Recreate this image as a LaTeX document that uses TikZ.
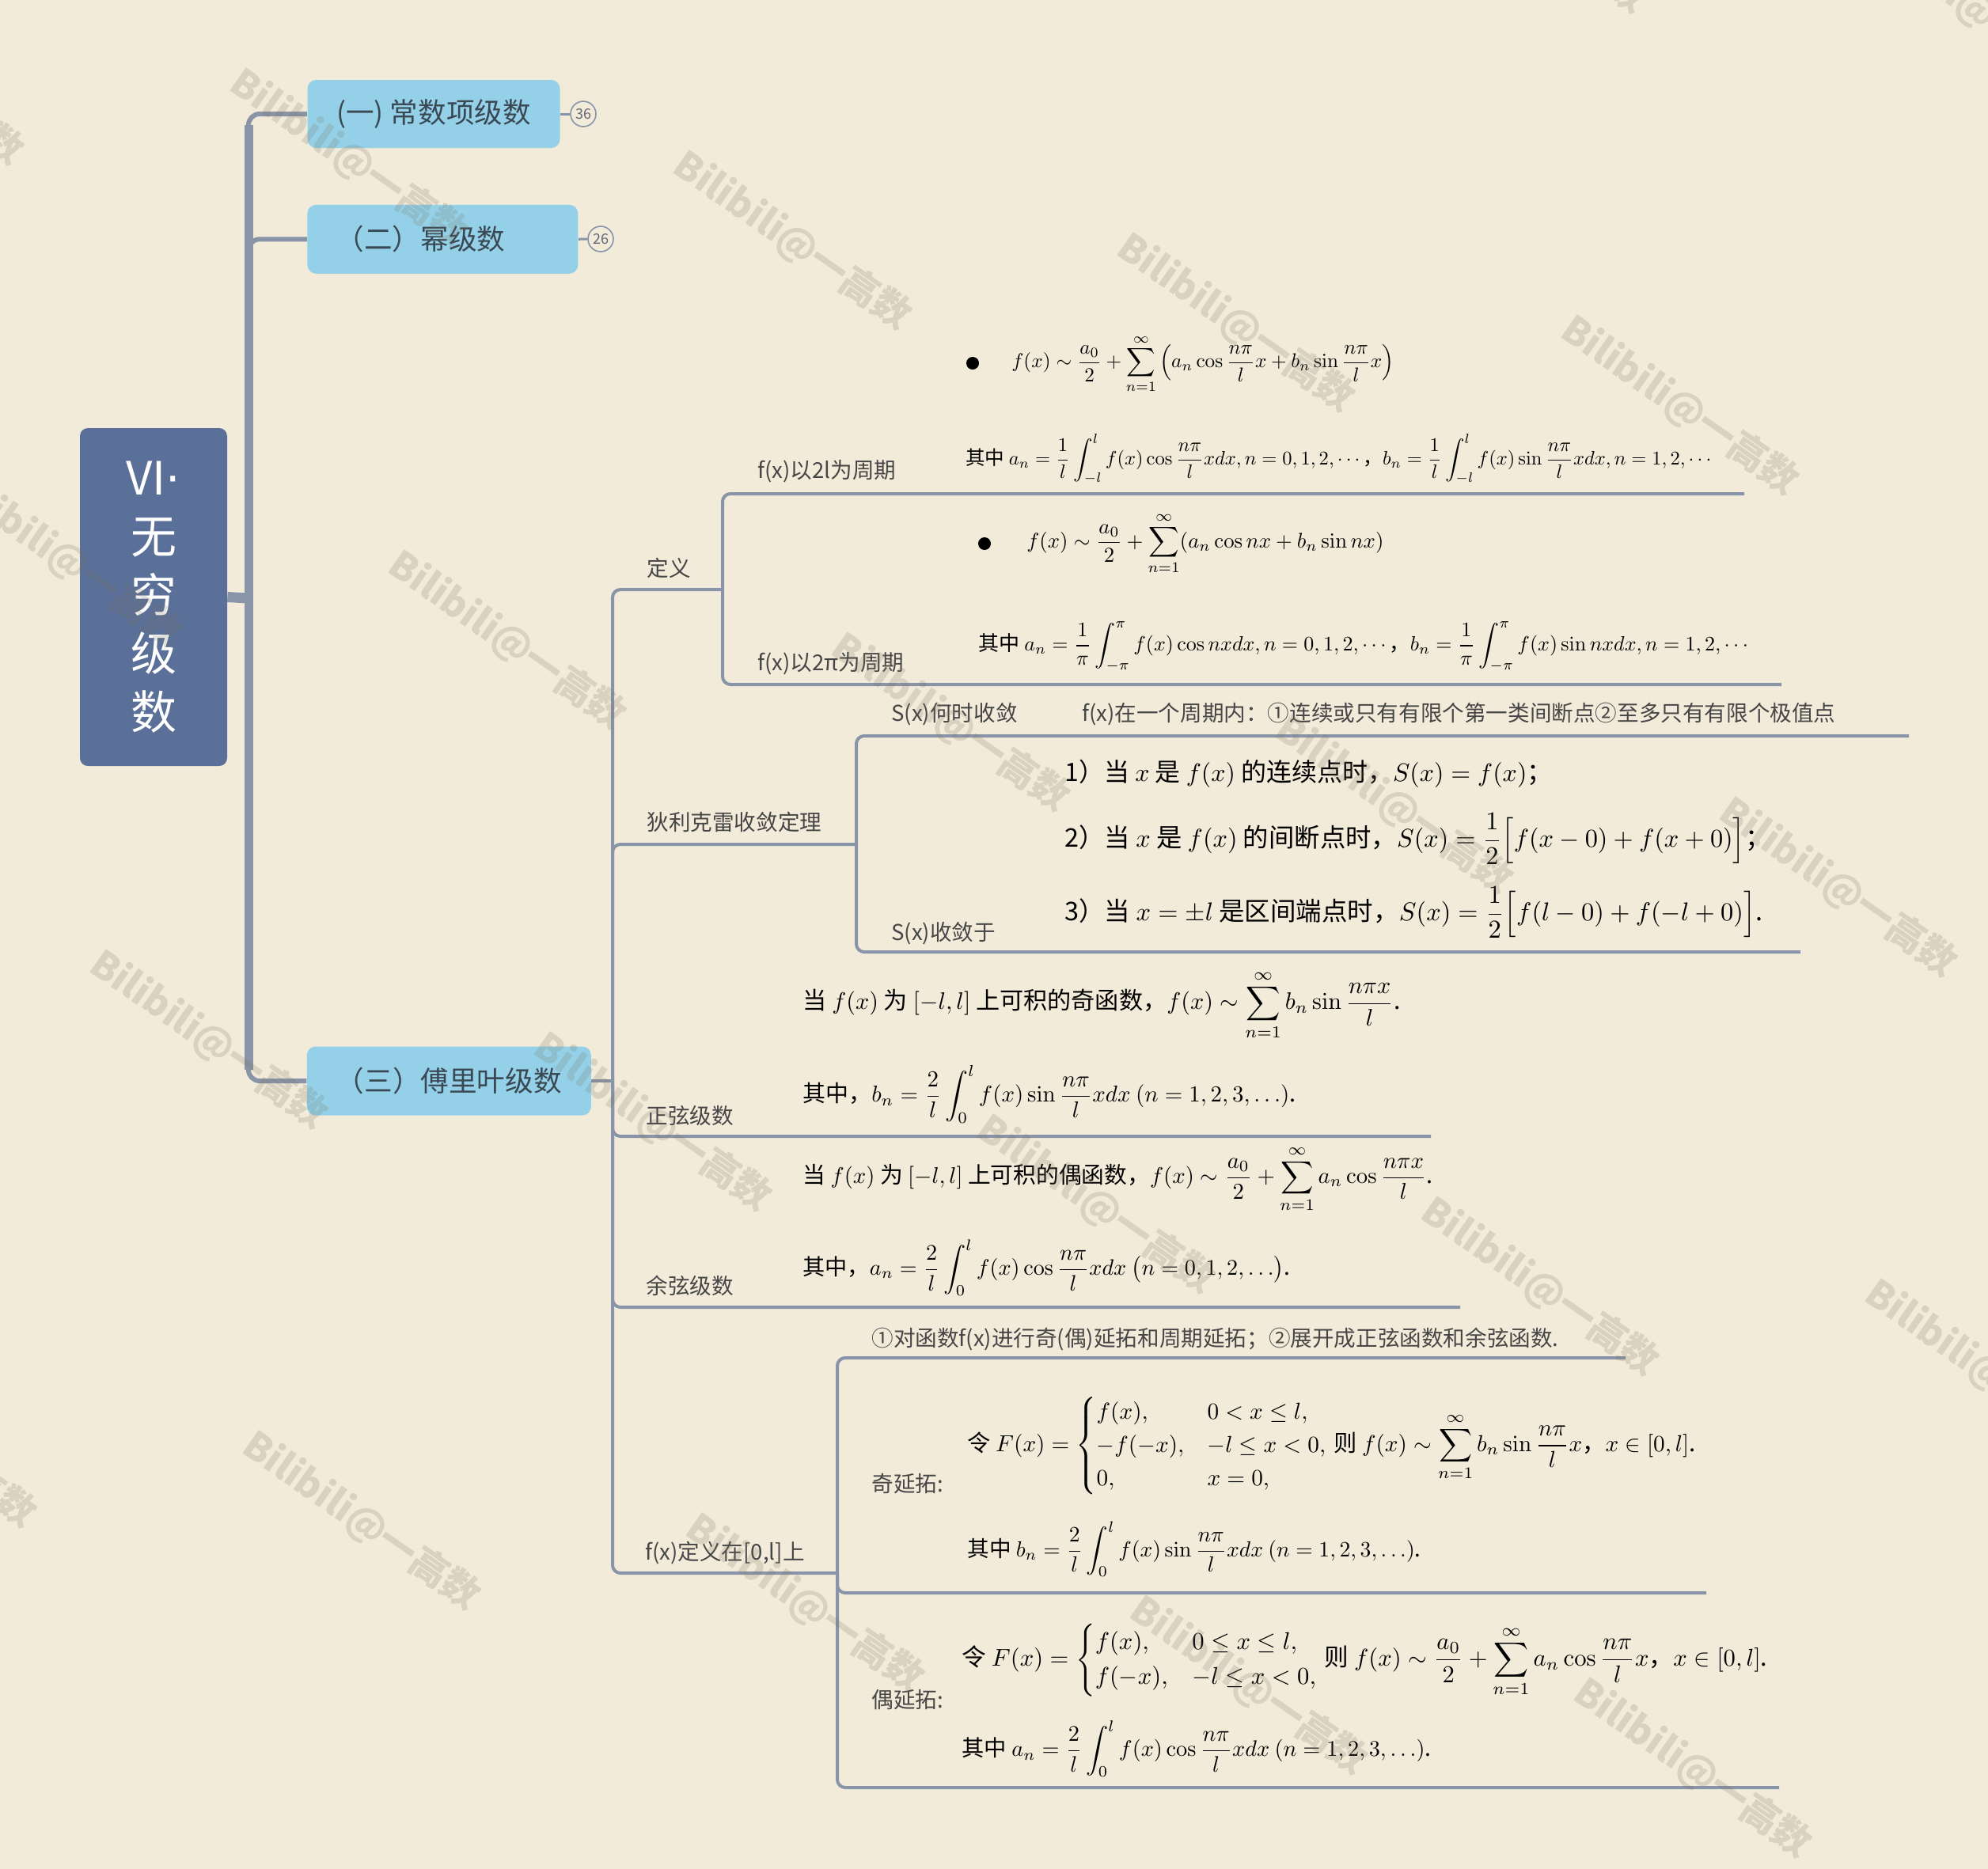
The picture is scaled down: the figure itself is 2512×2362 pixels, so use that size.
\documentclass[tikz,border=0pt]{standalone}
\usepackage{amsmath}
\usepackage{graphicx}
\usepackage[no-math]{fontspec}
\setmainfont{Noto Sans CJK SC}
\newfontfamily\dotfont{DejaVu Sans}
\definecolor{bg}{RGB}{242,235,218}
\definecolor{lineC}{RGB}{138,148,168}
\definecolor{rootC}{RGB}{91,112,152}
\definecolor{nodeC}{RGB}{148,209,232}
\definecolor{nodeT}{RGB}{58,72,84}
\definecolor{labT}{RGB}{70,70,70}
\definecolor{wmC}{RGB}{120,110,90}
\newcommand{\fmbox}[2]{\resizebox{#1pt}{!}{#2}}
\begin{document}
\begin{tikzpicture}[x=0.5pt,y=-0.5pt,
  lab/.style={anchor=west, inner sep=0pt, text=labT, font=\fontsize{13.8}{16}\selectfont},
  fm/.style={anchor=west, inner sep=0pt, text=black},
  l1/.style={draw=lineC, line width=3pt, rounded corners=7pt},
  l2/.style={draw=lineC, line width=2pt, rounded corners=5pt},
  topic/.style={fill=nodeC, rounded corners=5.5pt, text=nodeT, font=\fontsize{17.8}{20}\selectfont, inner sep=0pt},
  badge/.style={circle, draw=lineC, line width=0.8pt, fill=bg, text=lineC!70!black, minimum size=16pt, inner sep=0pt, font=\fontsize{9}{10}\selectfont},
  bul/.style={circle, fill=black, minimum size=8pt, inner sep=0pt},
  wm/.style={text=wmC, text opacity=0.2, font=\bfseries\fontsize{24}{26}\selectfont, rotate=-35}
]
\useasboundingbox (0,0) rectangle (2512,2362);
\fill[bg] (0,0) rectangle (2512,2362);

% ---------- main nodes ----------
\node[fill=rootC, rounded corners=5pt, minimum width=93pt, minimum height=213.5pt, inner sep=0pt,
      text=white, align=center, font=\fontsize{29}{37}\selectfont] (root) at (194,754.5) {VI{\dotfont ·}\\无\\穷\\级\\数};
\node[topic, minimum width=159.5pt, minimum height=43pt] (n1) at (548,144) {(一) 常数项级数};
\node[topic, minimum width=171pt, minimum height=43.5pt] (n2) at (559.4,302.3) {（二）幂级数\hspace*{28pt}};
\node[topic, minimum width=179.5pt, minimum height=43.5pt] (n3) at (567.3,1366) {（三）傅里叶级数};
\node[badge] (b1) at (737,144) {36};
\node[badge] (b2) at (759,302) {26};

% ---------- level 1 connectors ----------
\coordinate (rj) at (314,756);
\coordinate (tt) at (314,158);
\coordinate (tb) at (314,1352);
\draw[lineC, line width=6.5pt] (root.east) -- (rj);
\draw[l1] (rj) |- (n1.west);
\draw[l1] (rj) |- (n2.west);
\draw[l1] (rj) |- (n3.west);
\draw[lineC, line width=5.5pt] (tt) -- (tb);
\draw[lineC, line width=1.5pt] (n1.east) -- (b1.west);
\draw[lineC, line width=1.5pt] (n2.east) -- (b2.west);

% ---------- level 2 connectors ----------
\coordinate (s2) at (774,1366);
\draw[l2] (n3.east) -- (s2);
\coordinate (dyj) at (913,745);
\coordinate (e2l) at (2204,624);
\coordinate (e2p) at (2251,865);
\draw[l2] (s2) |- (dyj);
\draw[l2] (dyj) |- (e2l);
\draw[l2] (dyj) |- (e2p);
\coordinate (dlj) at (1082,1067);
\coordinate (ewhen) at (2412,930);
\coordinate (eto) at (2275,1203);
\draw[l2] (s2) |- (dlj);
\draw[l2] (dlj) |- (ewhen);
\draw[l2] (dlj) |- (eto);
\coordinate (esin) at (1808,1436);
\coordinate (ecos) at (1845,1652);
\draw[l2] (s2) |- (esin);
\draw[l2] (s2) |- (ecos);
\coordinate (dfj) at (1058,1988);
\coordinate (eext) at (2054,1716);
\coordinate (eodd) at (2156,2013);
\coordinate (eeven) at (2248,2259);
\draw[l2] (s2) |- (dfj);
\draw[l2] (dfj) |- (eext);
\draw[l2] (dfj) |- (eodd);
\draw[l2] (dfj) |- (eeven);

% ---------- labels ----------
\node[lab] (ldy) at (817,718) {定义};
\node[lab] (l2l) at (957,596) {f(x)以2l为周期};
\node[lab] (l2p) at (957,839) {f(x)以2π为周期};
\node[lab] (ldl) at (817,1039) {狄利克雷收敛定理};
\node[lab] (lwhen) at (1126,903) {S(x)何时收敛};
\node[lab] (lcond) at (1367,903) {f(x)在一个周期内：①连续或只有有限个第一类间断点②至多只有有限个极值点};
\node[lab] (lto) at (1126,1180) {S(x)收敛于};
\node[lab] (lsin) at (816,1410) {正弦级数};
\node[lab] (lcos) at (816,1625) {余弦级数};
\node[lab] (ldf) at (815,1962) {f(x)定义在[0,l]上};
\node[lab] (lext) at (1101,1692) {①对函数f(x)进行奇(偶)延拓和周期延拓；②展开成正弦函数和余弦函数.};
\node[lab] (lodd) at (1101,1875) {奇延拓:};
\node[lab] (leven) at (1101,2148) {偶延拓:};

% ---------- formulas ----------
\node[bul] (bu1) at (1229,459) {};
\node[fm] (f1) at (1278,460) {\fmbox{241.5}{$\displaystyle f(x)\sim\frac{a_0}{2}+\sum_{n=1}^{\infty}\left(a_n\cos\frac{n\pi}{l}x+b_n\sin\frac{n\pi}{l}x\right)$}};
\node[fm] (f2) at (1220,580) {\fmbox{473}{其中 $\displaystyle a_n=\frac{1}{l}\int_{-l}^{l}f(x)\cos\frac{n\pi}{l}xdx,n=0,1,2,\cdots$，$\displaystyle b_n=\frac{1}{l}\int_{-l}^{l}f(x)\sin\frac{n\pi}{l}xdx,n=1,2,\cdots$}};
\node[bul] (bu2) at (1244,687) {};
\node[fm] (f3) at (1297,687) {\fmbox{225.5}{$\displaystyle f(x)\sim\frac{a_0}{2}+\sum_{n=1}^{\infty}(a_n\cos nx+b_n\sin nx)$}};
\node[fm] (f4) at (1236,817) {\fmbox{488.5}{其中 $\displaystyle a_n=\frac{1}{\pi}\int_{-\pi}^{\pi}f(x)\cos nxdx,n=0,1,2,\cdots$，$\displaystyle b_n=\frac{1}{\pi}\int_{-\pi}^{\pi}f(x)\sin nxdx,n=1,2,\cdots$}};

\node[fm] (d1) at (1345,978) {\fmbox{308}{1）当 $x$ 是 $f(x)$ 的连续点时，$S(x)=f(x)$；}};
\node[fm] (d2) at (1345,1060) {\fmbox{446}{2）当 $x$ 是 $f(x)$ 的间断点时，$\displaystyle S(x)=\frac{1}{2}\Bigl[f(x-0)+f(x+0)\Bigr]$；}};
\node[fm] (d3) at (1345,1153) {\fmbox{441}{3）当 $x=\pm l$ 是区间端点时，$\displaystyle S(x)=\frac{1}{2}\Bigl[f(l-0)+f(-l+0)\Bigr]$.}};

\node[fm] (s1) at (1014,1270) {\fmbox{377.5}{当 $f(x)$ 为 $[-l,l]$ 上可积的奇函数，$\displaystyle f(x)\sim\sum_{n=1}^{\infty}b_n\sin\frac{n\pi x}{l}$.}};
\node[fm] (s2f) at (1014,1383) {\fmbox{311.5}{其中，$\displaystyle b_n=\frac{2}{l}\int_0^l f(x)\sin\frac{n\pi}{l}xdx\ (n=1,2,3,\ldots)$.}};
\node[fm] (c1) at (1014,1490) {\fmbox{398}{当 $f(x)$ 为 $[-l,l]$ 上可积的偶函数，$\displaystyle f(x)\sim\frac{a_0}{2}+\sum_{n=1}^{\infty}a_n\cos\frac{n\pi x}{l}$.}};
\node[fm] (c2) at (1014,1602) {\fmbox{308}{其中，$\displaystyle a_n=\frac{2}{l}\int_0^l f(x)\cos\frac{n\pi}{l}xdx\ \bigl(n=0,1,2,\ldots\bigr)$.}};

\node[fm] (o1) at (1222,1827) {\fmbox{460}{令 $\displaystyle F(x)=\begin{cases}f(x), & 0<x\le l,\\ -f(-x), & -l\le x<0,\\ 0, & x=0,\end{cases}$ 则 $\displaystyle f(x)\sim\sum_{n=1}^{\infty}b_n\sin\frac{n\pi}{l}x$，$x\in[0,l]$.}};
\node[fm] (o2) at (1222,1958) {\fmbox{286.5}{其中 $\displaystyle b_n=\frac{2}{l}\int_0^l f(x)\sin\frac{n\pi}{l}xdx\ (n=1,2,3,\ldots)$.}};
\node[fm] (e1) at (1215,2098) {\fmbox{509}{令 $\displaystyle F(x)=\begin{cases}f(x), & 0\le x\le l,\\ f(-x), & -l\le x<0,\end{cases}$ 则 $\displaystyle f(x)\sim\frac{a_0}{2}+\sum_{n=1}^{\infty}a_n\cos\frac{n\pi}{l}x$，$x\in[0,l]$.}};
\node[fm] (e2) at (1215,2210) {\fmbox{296.5}{其中 $\displaystyle a_n=\frac{2}{l}\int_0^l f(x)\cos\frac{n\pi}{l}xdx\ (n=1,2,3,\ldots)$.}};

% ---------- watermarks ----------
\foreach \rx/\ry [count=\r] in {-312/-513, -120/96, 80/705, 264/1314, -104/1818} {
  \foreach \k in {0,...,5} {
    \node[wm] (wm\r\k) at ({\rx+560.7*\k},{\ry+104.1*\k}) {Bilibili@一高数};
  }
}
\end{tikzpicture}
\end{document}
